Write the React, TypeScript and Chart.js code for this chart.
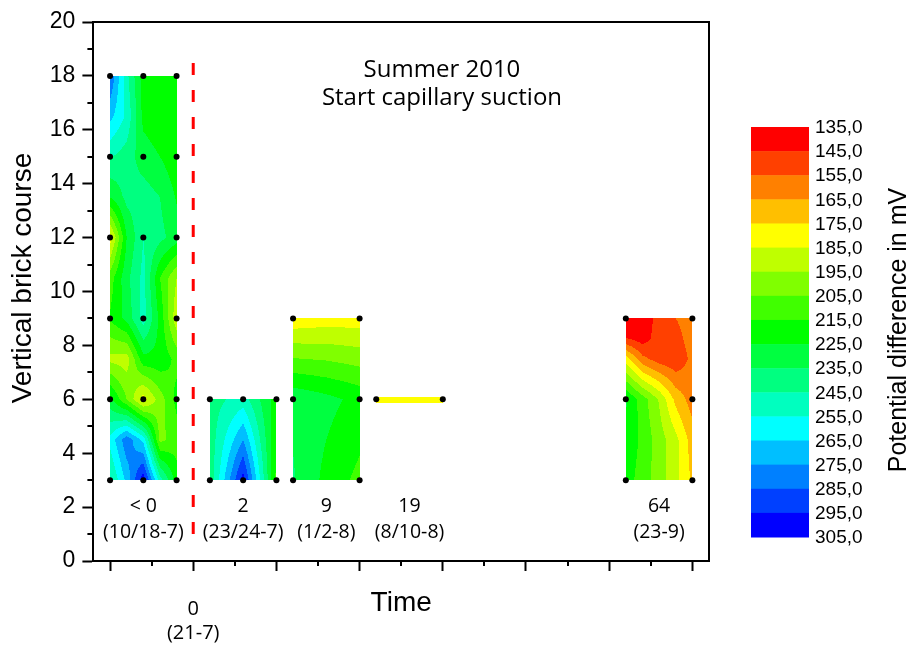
import React, { useEffect, useRef } from 'react';
import { Chart, registerables } from 'chart.js';

Chart.register(...registerables);

// ---------- data ----------
const levels = [135, 145, 155, 165, 175, 185, 195, 205, 215, 225, 235, 245, 255, 265, 275, 285, 295, 305];
const bandColors = ['#FF0000', '#FF4000', '#FF8000', '#FFBF00', '#FFFF00', '#BFFF00', '#80FF00', '#40FF00', '#00FF00',
  '#00FF40', '#00FF80', '#00FFBF', '#00FFFF', '#00BFFF', '#0080FF', '#0040FF', '#0000FF'];

const yTickValues = [0, 2, 4, 6, 8, 10, 12, 14, 16, 18, 20];
const xMajorTicks = [0, 1, 2, 3, 4, 5, 6, 7];
const xMinorTicks = [0.5, 1.5, 2.5, 3.5, 4.5, 5.5, 6.5];
const yMinorTicks = [1, 3, 5, 7, 9, 11, 13, 15, 17, 19];

// block "< 0" (values read on the plotted grid; dots = measuring points)
const lt0X = [0, 0.2, 0.4, 0.6, 0.8];
const lt0Y = [3, 4.5, 6, 7.5, 9, 10.5, 12, 13.5, 15, 16.5, 18];
const lt0V = [
  [243, 268, 302, 250, 220],
  [258, 282, 262, 202, 210],
  [228, 205, 180, 200, 218],
  [192, 190, 222, 222, 212],
  [216, 228, 250, 222, 188],
  [210, 232, 248, 215, 195],
  [180, 225, 245, 238, 230],
  [225, 238, 240, 235, 224],
  [246, 240, 230, 225, 218],
  [268, 253, 222, 218, 218],
  [285, 248, 220, 218, 218],
];
const lt0DotX = [0, 0.4, 0.8];
const lt0DotY = [3, 6, 9, 12, 15, 18];
// block "2"
const d2X = [1.2, 1.6, 2.0];
const d2Y = [3, 6];
const d2V = [
  [238, 300, 212],
  [240, 250, 220],
];
// block "9"
const d9X = [2.2, 2.6, 3.0];
const d9Y = [3, 6, 9];
const d9V = [
  [236, 222, 212],
  [233, 228, 222],
  [178, 180, 180],
];
const d9DotX = [2.2, 3.0];
// block "19"
const d19X = [3.2, 4.0];
const d19Y = [6];
const d19V = [[180, 180]];
// block "64"
const d64X = [6.2, 6.4, 6.6, 6.8, 7.0];
const d64Y = [3, 4.5, 6, 7.5, 8.25, 9];
const d64V = [
  [220, 210, 200, 188, 173],
  [224, 212, 200, 188, 170],
  [226, 210, 194, 172, 160],
  [180, 158, 150, 147, 158],
  [146, 140, 150, 151, 160],
  [130, 138, 149, 155, 160],
];
const d64DotX = [6.2, 7.0];
const d64DotY = [3, 6, 9];

const timeLabels = ['< 0', '2', '9', '19', '64'];
const dateLabels = ['(10/18-7)', '(23/24-7)', '(1/2-8)', '(8/10-8)', '(23-9)'];
const labelX = [0.4, 1.6, 2.6, 3.6, 6.6];

const suctionX = 1;
const suctionY = [1, 19];
const suctionLabel = ['0', '(21-7)'];

const annotation = ['Summer 2010', 'Start capillary suction'];
const annotationX = 3.99;

type Block = { x: number[]; y: number[]; v: number[][]; dotX: number[]; dotY: number[] };
const blocks: Block[] = [
  { x: lt0X, y: lt0Y, v: lt0V, dotX: lt0DotX, dotY: lt0DotY },
  { x: d2X, y: d2Y, v: d2V, dotX: d2X, dotY: d2Y },
  { x: d9X, y: d9Y, v: d9V, dotX: d9DotX, dotY: d9Y },
  { x: d19X, y: d19Y, v: d19V, dotX: d19X, dotY: d19Y },
  { x: d64X, y: d64Y, v: d64V, dotX: d64DotX, dotY: d64DotY },
];

// ---------- helpers ----------
const AX_FONT = '"Liberation Sans", Arial, sans-serif';
const TX_FONT = '"Open Sans", "Noto Sans", sans-serif';

function colorFor(v: number): string {
  let i = Math.floor((v - levels[0]) / (levels[1] - levels[0]));
  if (i < 0) i = 0;
  if (i > bandColors.length - 1) i = bandColors.length - 1;
  return bandColors[i];
}
const clamp = (a: number, lo: number, hi: number) => Math.max(lo, Math.min(hi, a));

function valueAt(b: Block, xv: number, yv: number): number {
  let i = 0;
  while (i < b.x.length - 2 && xv > b.x[i + 1]) i++;
  const tx = clamp((xv - b.x[i]) / (b.x[i + 1] - b.x[i]), 0, 1);
  if (b.y.length === 1) return b.v[0][i] * (1 - tx) + b.v[0][i + 1] * tx;
  let j = 0;
  while (j < b.y.length - 2 && yv > b.y[j + 1]) j++;
  const ty = clamp((yv - b.y[j]) / (b.y[j + 1] - b.y[j]), 0, 1);
  const v00 = b.v[j][i], v10 = b.v[j][i + 1], v01 = b.v[j + 1][i], v11 = b.v[j + 1][i + 1];
  return v00 * (1 - tx) * (1 - ty) + v10 * tx * (1 - ty) + v01 * (1 - tx) * ty + v11 * tx * ty;
}

function drawBlock(ctx: CanvasRenderingContext2D, xs: any, ys: any, b: Block) {
  const px0 = Math.round(xs.getPixelForValue(b.x[0]));
  const px1 = Math.round(xs.getPixelForValue(b.x[b.x.length - 1]));
  let py0: number, py1: number;
  if (b.y.length > 1) {
    py0 = Math.round(ys.getPixelForValue(b.y[b.y.length - 1]));
    py1 = Math.round(ys.getPixelForValue(b.y[0]));
  } else {
    const c = Math.round(ys.getPixelForValue(b.y[0]));
    py0 = c - 2;
    py1 = c + 4;
  }
  for (let py = py0; py < py1; py++) {
    const yv = ys.getValueForPixel(py + 0.5);
    let runStart = px0;
    let runColor: string | null = null;
    for (let px = px0; px <= px1; px++) {
      const c = px < px1 ? colorFor(valueAt(b, xs.getValueForPixel(px + 0.5), yv)) : null;
      if (c !== runColor) {
        if (runColor) {
          ctx.fillStyle = runColor;
          ctx.fillRect(runStart, py, px - runStart, 1);
        }
        runColor = c;
        runStart = px;
      }
    }
  }
}

const contourPlugin = {
  id: 'contourPlugin',
  beforeDatasetsDraw(chart: any) {
    const { ctx, scales } = chart;
    ctx.save();
    for (const b of blocks) drawBlock(ctx, scales.x, scales.y, b);
    ctx.restore();
  },
  afterDraw(chart: any) {
    const { ctx, chartArea: ca, scales } = chart;
    const xs = scales.x, ys = scales.y;
    ctx.save();
    // frame top / right
    ctx.strokeStyle = '#000';
    ctx.lineWidth = 2;
    ctx.beginPath();
    ctx.moveTo(ca.left, ca.top);
    ctx.lineTo(ca.right, ca.top);
    ctx.lineTo(ca.right, ca.bottom);
    ctx.stroke();
    // minor ticks
    ctx.beginPath();
    for (const v of yMinorTicks) {
      const p = Math.round(ys.getPixelForValue(v));
      ctx.moveTo(ca.left - 6, p);
      ctx.lineTo(ca.left, p);
    }
    for (const v of xMinorTicks) {
      const p = Math.round(xs.getPixelForValue(v));
      ctx.moveTo(p, ca.bottom);
      ctx.lineTo(p, ca.bottom + 5);
    }
    ctx.stroke();

    ctx.fillStyle = '#000';
    // annotation
    ctx.font = `24px ${TX_FONT}`;
    ctx.textAlign = 'center';
    ctx.textBaseline = 'alphabetic';
    const ax = xs.getPixelForValue(annotationX);
    ctx.fillText(annotation[0], ax, 77);
    ctx.fillText(annotation[1], ax, 105);

    // block labels
    ctx.font = `19.5px ${TX_FONT}`;
    const y0 = ys.getPixelForValue(0);
    for (let i = 0; i < timeLabels.length; i++) {
      const px = xs.getPixelForValue(labelX[i]);
      ctx.fillText(timeLabels[i], px, y0 - 49);
      ctx.fillText(dateLabels[i], px, y0 - 23);
    }
    // suction start label below axis
    const sx = xs.getPixelForValue(suctionX);
    ctx.font = `20px ${TX_FONT}`;
    ctx.fillText(suctionLabel[0], sx, y0 + 54);
    ctx.fillText(suctionLabel[1], sx, y0 + 78);

    // axis titles
    ctx.font = `28px ${AX_FONT}`;
    ctx.fillText('Time', (ca.left + ca.right) / 2, 611);
    ctx.save();
    ctx.translate(31, 278);
    ctx.rotate(-Math.PI / 2);
    ctx.fillText('Vertical brick course', 0, 0);
    ctx.restore();

    // colour bar
    const cbL = 751, cbR = 809, cbT = 127, cbB = 537;
    const n = bandColors.length;
    const bh = (cbB - cbT) / n;
    for (let i = 0; i < n; i++) {
      ctx.fillStyle = bandColors[i];
      ctx.fillRect(cbL, cbT + i * bh, cbR - cbL, bh + 0.5);
    }
    ctx.fillStyle = '#000';
    ctx.font = `19px ${AX_FONT}`;
    ctx.textAlign = 'left';
    ctx.textBaseline = 'middle';
    for (let i = 0; i < levels.length; i++) {
      ctx.fillText(levels[i].toFixed(1).replace('.', ','), 815, cbT + i * bh + 1);
    }
    ctx.save();
    ctx.font = `25px ${AX_FONT}`;
    ctx.textAlign = 'center';
    ctx.textBaseline = 'alphabetic';
    ctx.translate(906, 330);
    ctx.rotate(-Math.PI / 2);
    ctx.fillText('Potential difference in mV', 0, 0);
    ctx.restore();

    ctx.restore();
  },
};

export default function App() {
  const ref = useRef<HTMLCanvasElement | null>(null);
  useEffect(() => {
    if (!ref.current) return;
    const dotData: { x: number; y: number }[] = [];
    for (const b of blocks) for (const yy of b.dotY) for (const xx of b.dotX) dotData.push({ x: xx, y: yy });
    const chart = new Chart(ref.current, {
      type: 'scatter',
      data: {
        datasets: [
          {
            label: 'suction start',
            data: suctionY.map((v) => ({ x: suctionX, y: v })),
            showLine: true,
            borderColor: '#FF0000',
            borderWidth: 3,
            borderDash: [12, 15],
            pointRadius: 0,
          } as any,
          {
            label: 'measuring points',
            data: dotData,
            pointRadius: 3,
            pointBackgroundColor: '#000',
            pointBorderWidth: 0,
            borderColor: '#000',
          },
        ],
      },
      options: {
        responsive: false,
        animation: false,
        layout: { padding: { left: 0, top: 22, right: 200, bottom: 0 } },
        plugins: { legend: { display: false }, tooltip: { enabled: false } },
        scales: {
          x: {
            type: 'linear',
            min: -0.2,
            max: 7.2,
            afterBuildTicks: (s: any) => { s.ticks = xMajorTicks.map((value) => ({ value })); },
            afterFit: (s: any) => { s.height = 84; },
            ticks: { display: false },
            grid: { drawOnChartArea: false, drawTicks: true, tickLength: 10, tickWidth: 2, tickColor: '#000' },
            border: { display: true, color: '#000', width: 2 },
          },
          y: {
            type: 'linear',
            min: 0,
            max: 20,
            afterBuildTicks: (s: any) => { s.ticks = yTickValues.map((value) => ({ value })); },
            afterFit: (s: any) => { s.width = 93.4; },
            ticks: { color: '#000', padding: 7, font: { family: AX_FONT, size: 23 } },
            grid: { drawOnChartArea: false, drawTicks: true, tickLength: 11, tickWidth: 2, tickColor: '#000' },
            border: { display: true, color: '#000', width: 2 },
          },
        },
      },
      plugins: [contourPlugin],
    });
    return () => chart.destroy();
  }, []);
  return (
    <div style={{ position: 'fixed', left: 0, top: 0, width: 909, height: 645, background: '#fff' }}>
      <canvas ref={ref} width={909} height={645} style={{ display: 'block', width: 909, height: 645 }} />
    </div>
  );
}
